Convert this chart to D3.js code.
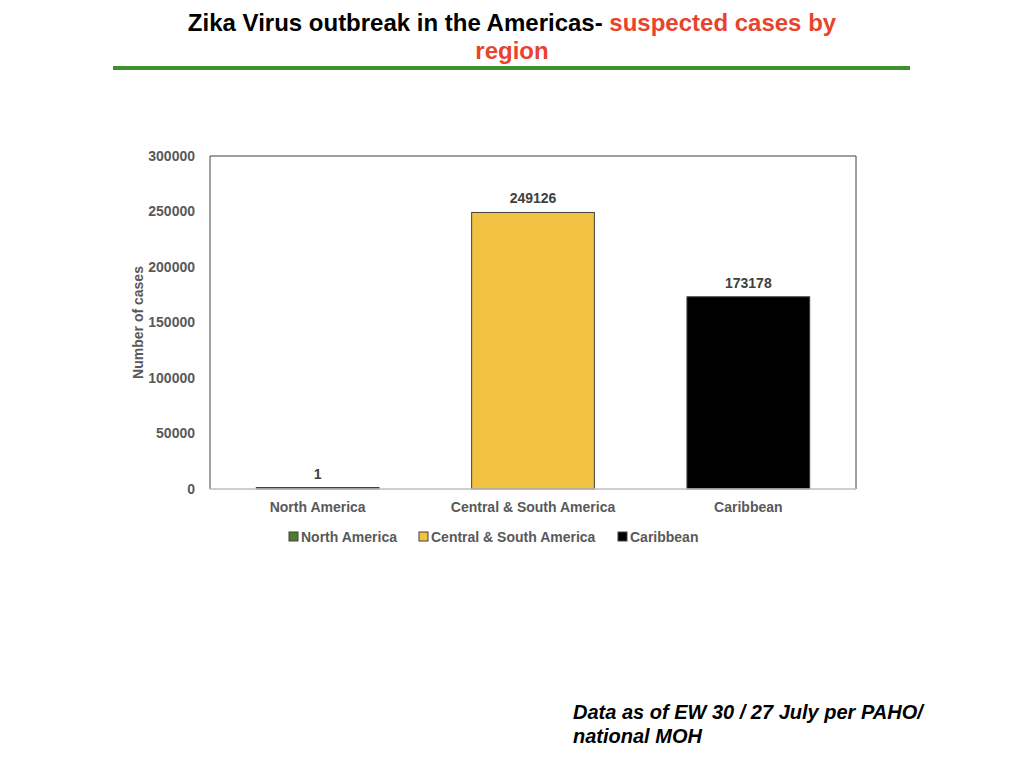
<!DOCTYPE html>
<html><head><meta charset="utf-8">
<script src="https://cdn.jsdelivr.net/npm/d3@7"></script>
<style>body{margin:0;background:#fff;}svg{display:block;}</style>
</head><body>
<svg id="c" width="1024" height="768"></svg>
<script>
const categories = ["North America", "Central & South America", "Caribbean"];
const values = [1, 249126, 173178];
const colors = ["#4f7c2e", "#f2c342", "#000000"];
const yTicks = [0, 50000, 100000, 150000, 200000, 250000, 300000];

const svg = d3.select("#c");
const m = {l:210, r:856, t:156, b:489};
const x = d3.scaleBand().domain(categories).range([m.l, m.r]).paddingInner(0.43).paddingOuter(0.215);
const y = d3.scaleLinear().domain([0, 300000]).range([m.b, m.t]);
const gray = "#595959";
const font = "'Liberation Sans', Arial, Helvetica, sans-serif";

// Title
const title = svg.append("text").attr("x", 512).attr("y", 31).attr("text-anchor","middle")
  .attr("font-family",font).attr("font-weight","bold").attr("font-size",24);
title.append("tspan").attr("fill","#000").text("Zika Virus outbreak in the Americas- ");
title.append("tspan").attr("fill","#e8432d").text("suspected cases by");
svg.append("text").attr("x",512).attr("y",59).attr("text-anchor","middle")
  .attr("font-family",font).attr("font-weight","bold").attr("font-size",24)
  .attr("fill","#e8432d").text("region");
svg.append("line").attr("x1",113).attr("x2",910).attr("y1",68).attr("y2",68)
  .attr("stroke","#3f8f2e").attr("stroke-width",4);

// Y axis ticks
const yAxis = d3.axisLeft(y).tickValues(yTicks).tickSize(0).tickPadding(15).tickFormat(d3.format("d"));
const ga = svg.append("g").attr("transform",`translate(${m.l},0)`).call(yAxis);
ga.select(".domain").remove();
ga.selectAll("text").attr("font-family",font).attr("font-weight","bold").attr("font-size",14).attr("fill",gray);

// X axis labels
const xAxis = d3.axisBottom(x).tickSize(0).tickPadding(13);
const gx = svg.append("g").attr("transform",`translate(0,${m.b})`).call(xAxis);
gx.select(".domain").remove();
gx.selectAll("text").attr("font-family",font).attr("font-weight","bold").attr("font-size",14).attr("fill",gray);

// Bars
svg.selectAll("rect.bar").data(values).enter().append("rect").attr("class","bar")
  .attr("x",(d,i)=>x(categories[i])).attr("width",x.bandwidth())
  .attr("y",d=>Math.min(y(d), m.b-1.5)).attr("height",d=>Math.max(m.b-y(d),1.5))
  .attr("fill",(d,i)=>colors[i]).attr("stroke","#404040").attr("stroke-width",1);

// Value labels
svg.selectAll("text.val").data(values).enter().append("text").attr("class","val")
  .attr("x",(d,i)=>x(categories[i])+x.bandwidth()/2).attr("y",d=>Math.min(y(d), m.b-1.5)-9)
  .attr("text-anchor","middle").attr("font-family",font).attr("font-weight","bold")
  .attr("font-size",14).attr("fill","#404040").text(d=>d);

// Plot frame
svg.append("path").attr("d",`M${m.l},${m.b}V${m.t}H${m.r}V${m.b}`).attr("fill","none")
  .attr("stroke","#404040").attr("stroke-width",1);
svg.append("line").attr("x1",m.l).attr("x2",m.r).attr("y1",m.b).attr("y2",m.b)
  .attr("stroke","#bfbfbf").attr("stroke-width",1.5);

// Y label
svg.append("text").attr("transform",`translate(143,${(m.t+m.b)/2}) rotate(-90)`)
  .attr("text-anchor","middle").attr("font-family",font).attr("font-weight","bold")
  .attr("font-size",14).attr("fill",gray).text("Number of cases");

// Legend
const legX = [289, 419, 618];
const lg = svg.selectAll("g.leg").data(categories).enter().append("g").attr("class","leg")
  .attr("transform",(d,i)=>`translate(${legX[i]},537)`);
lg.append("rect").attr("x",0).attr("y",-5).attr("width",9).attr("height",9)
  .attr("fill",(d,i)=>colors[i]).attr("stroke","#404040").attr("stroke-width",1);
lg.append("text").attr("x",12).attr("y",5).attr("font-family",font).attr("font-weight","bold")
  .attr("font-size",14).attr("fill",gray).text(d=>d);

// Footnote
const fn = svg.append("text").attr("font-family",font).attr("font-weight","bold")
  .attr("font-style","italic").attr("font-size",20).attr("fill","#000");
fn.append("tspan").attr("x",573).attr("y",719).text("Data as of EW 30 / 27 July per PAHO/");
fn.append("tspan").attr("x",573).attr("y",743).text("national MOH");
</script>
</body></html>
